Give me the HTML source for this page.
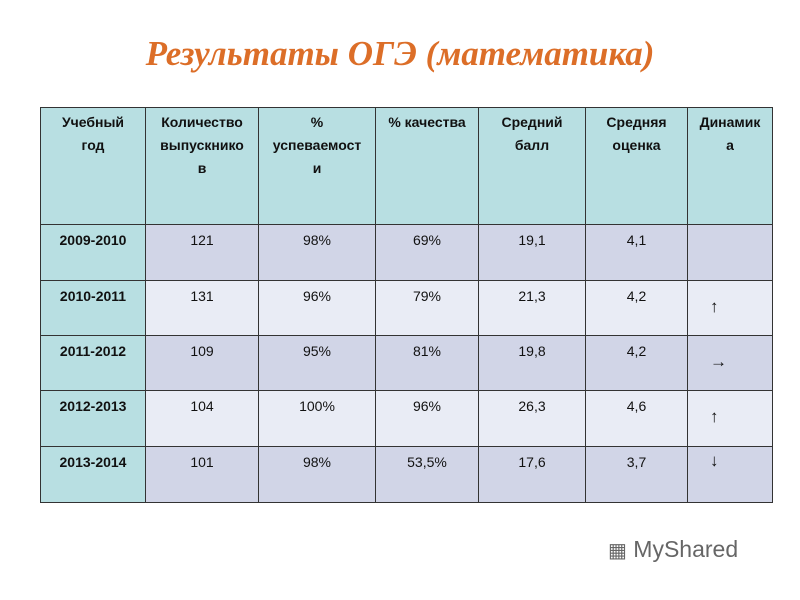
<!DOCTYPE html>
<html><head><meta charset="utf-8"><style>
body{margin:0;width:800px;height:600px;background:#fff;position:relative;overflow:hidden;font-family:"Liberation Sans",sans-serif}
#title{position:absolute;left:0;width:800px;top:34px;text-align:center;font:italic bold 35px "Liberation Serif",serif;color:#dc6e28}
.c{position:absolute;box-sizing:border-box;border:1px solid #333;text-align:center;font-size:14px;color:#111;line-height:23px;padding-top:4px}
.b{font-weight:bold}
#logo{position:absolute;left:608px;top:536px;font-size:23px;color:#666}
</style></head><body>
<div id="title">Результаты ОГЭ (математика)</div>
<div id="tbl"></div>
<div id="logo"><span style="font-size:20px">&#9638;</span> MyShared</div>
<script>
const headers=["Учебный\nгод","Количество\nвыпускнико\nв","%\nуспеваемост\nи","% качества","Средний\nбалл","Средняя\nоценка","Динамик\nа"];
const years=["2009-2010","2010-2011","2011-2012","2012-2013","2013-2014"];
const graduates=["121","131","109","104","101"];
const passRate=["98%","96%","95%","100%","98%"];
const quality=["69%","79%","81%","96%","53,5%"];
const avgScore=["19,1","21,3","19,8","26,3","17,6"];
const avgGrade=["4,1","4,2","4,2","4,6","3,7"];
const dynamics=["","↑","→","↑","↓"];
const colX=[40,145,258,375,478,585,687,772];
const rowY=[107,224,280,335,390,446,502];
const t=document.getElementById('tbl');
function cell(txt,ci,ri,bg,cls){
 const d=document.createElement('div');
 d.className='c '+(cls||'');
 d.style.left=colX[ci]+'px';d.style.top=rowY[ri]+'px';
 d.style.width=(colX[ci+1]-colX[ci]+1)+'px';d.style.height=(rowY[ri+1]-rowY[ri]+1)+'px';
 d.style.background=bg;d.textContent=txt;
 t.appendChild(d);return d;
}
headers.forEach((h,i)=>{const d=cell(h,i,0,'#b8dfe2','b');


d.style.whiteSpace='pre-line';d.style.padding='3px 0 0';});
years.forEach((y,r)=>{
 const bg=r%2===0?'#d1d5e7':'#e9ecf5';
 const vals=[y,graduates[r],passRate[r],quality[r],avgScore[r],avgGrade[r],dynamics[r]];
 vals.forEach((v,ci)=>{
  const d=cell(v,ci,r+1,ci===0?'#b8dfe2':bg,ci===0?'b':'');
  
  
  if(ci===6){d.style.textAlign='left';d.style.paddingLeft='22px';d.style.fontSize='17px';d.style.paddingTop=(r===4?'2px':'14px');}
 });
});
</script>
</body></html>
